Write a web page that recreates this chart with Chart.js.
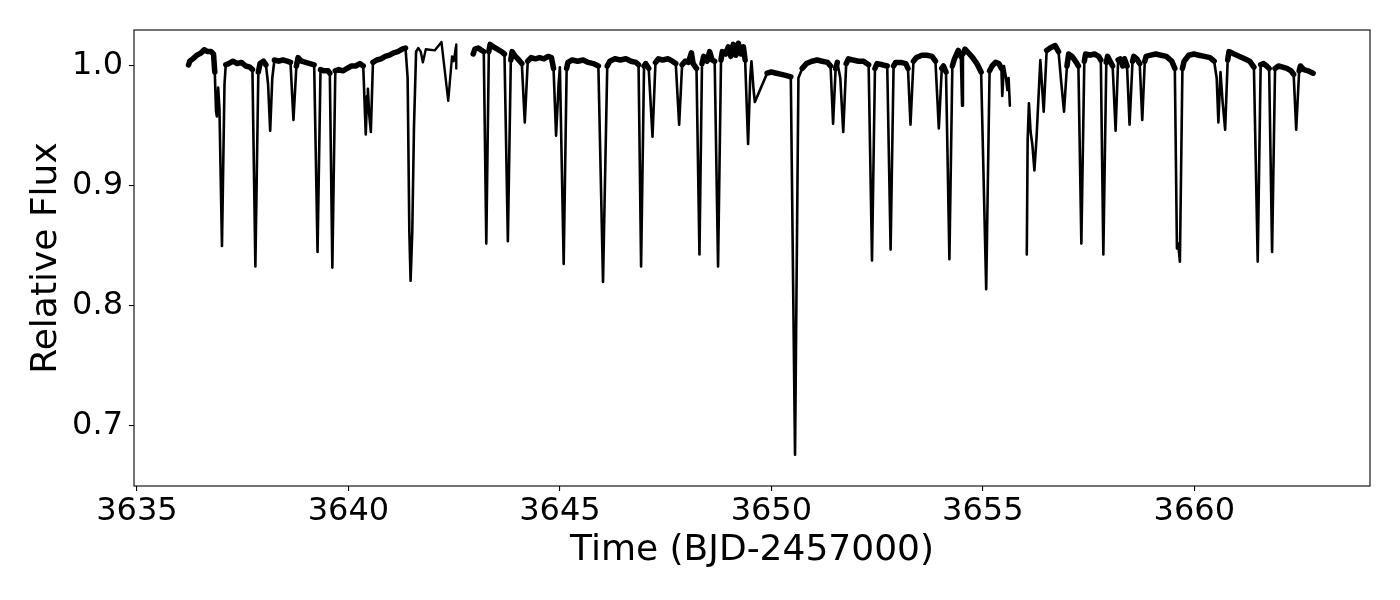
<!DOCTYPE html>
<html>
<head>
<meta charset="utf-8">
<script src="https://cdn.jsdelivr.net/npm/chart.js@4.4.0/dist/chart.umd.min.js"></script>
<style>
  html, body { margin: 0; padding: 0; background: #fff; }
  #wrap { width: 1400px; height: 600px; }
</style>
</head>
<body>
<div id="wrap"><canvas id="lc" width="1400" height="600"></canvas></div>
<script>
// tick labels
const xTicks = [3635, 3640, 3645, 3650, 3655, 3660];
const yTicks = [0.7, 0.8, 0.9, 1.0];

// [time, relative flux], one array per data stretch
const orbit1 = [
  [3636.22, 1.001], [3636.25, 1.004], [3636.32, 1.006], [3636.42, 1.009], [3636.52, 1.011],
  [3636.59, 1.0135], [3636.67, 1.012], [3636.75, 1.012], [3636.81, 1.010], [3636.84, 0.995],
  [3636.87, 0.962], [3636.89, 0.958], [3636.92, 0.982], [3636.95, 0.965], [3637.01, 0.850],
  [3637.07, 0.985], [3637.10, 1.001], [3637.17, 1.002], [3637.27, 1.004], [3637.37, 1.002],
  [3637.47, 1.003], [3637.57, 1.000], [3637.67, 0.999], [3637.73, 0.997], [3637.80, 0.833],
  [3637.87, 0.995], [3637.91, 1.002], [3637.99, 1.004], [3638.05, 1.001], [3638.10, 0.985],
  [3638.15, 0.946], [3638.20, 0.990], [3638.25, 1.005], [3638.35, 1.004], [3638.45, 1.005],
  [3638.55, 1.004], [3638.63, 1.003], [3638.70, 0.955], [3638.77, 1.000], [3638.81, 1.007],
  [3638.89, 1.004], [3638.99, 1.003], [3639.09, 1.002], [3639.19, 1.001], [3639.27, 0.845],
  [3639.34, 0.997], [3639.42, 0.996], [3639.52, 0.996], [3639.56, 0.994], [3639.62, 0.832],
  [3639.69, 0.996], [3639.77, 0.997], [3639.87, 0.996], [3639.97, 0.998], [3640.07, 1.000],
  [3640.17, 1.000], [3640.27, 1.002], [3640.35, 1.000], [3640.41, 0.943], [3640.44, 0.975],
  [3640.46, 0.981], [3640.49, 0.960], [3640.53, 0.945], [3640.58, 1.003], [3640.67, 1.005],
  [3640.77, 1.006], [3640.87, 1.008], [3640.97, 1.009], [3641.07, 1.011], [3641.17, 1.012],
  [3641.27, 1.014], [3641.35, 1.015], [3641.40, 0.990], [3641.44, 0.862], [3641.47, 0.821],
  [3641.51, 0.862], [3641.55, 0.949], [3641.60, 1.012]
];
// sparse stretch before the first gap
const orbit1Tail = [
  [3641.60, 1.012], [3641.65, 1.015], [3641.71, 1.012], [3641.76, 1.003], [3641.83, 1.014],
  [3642.04, 1.013], [3642.20, 1.020], [3642.36, 0.971], [3642.45, 1.008], [3642.49, 1.004],
  [3642.55, 1.018], [3642.55, 0.998]
];
const orbit2 = [
  [3642.95, 1.010], [3642.99, 1.014], [3643.07, 1.015], [3643.15, 1.013], [3643.20, 1.012],
  [3643.26, 0.852], [3643.32, 1.012], [3643.35, 1.018], [3643.43, 1.016], [3643.52, 1.014],
  [3643.62, 1.012], [3643.69, 1.010], [3643.77, 0.854], [3643.84, 1.005], [3643.87, 1.012],
  [3643.95, 1.008], [3644.03, 1.005], [3644.10, 1.002], [3644.17, 0.953], [3644.24, 1.004],
  [3644.32, 1.007], [3644.42, 1.006], [3644.52, 1.007], [3644.62, 1.006], [3644.72, 1.008],
  [3644.80, 1.007], [3644.85, 0.998], [3644.91, 0.942], [3644.97, 0.985], [3645.00, 0.999],
  [3645.09, 0.835], [3645.16, 0.998], [3645.19, 1.003], [3645.29, 1.005], [3645.42, 1.004],
  [3645.55, 1.005], [3645.67, 1.003], [3645.79, 1.002], [3645.91, 1.000], [3646.02, 0.820],
  [3646.12, 1.000], [3646.18, 1.004], [3646.30, 1.006], [3646.43, 1.005], [3646.56, 1.006],
  [3646.68, 1.004], [3646.80, 1.003], [3646.86, 1.001], [3646.92, 0.833], [3646.99, 1.000],
  [3647.03, 1.002], [3647.10, 0.998], [3647.19, 0.941], [3647.26, 1.003], [3647.33, 1.006],
  [3647.43, 1.005], [3647.56, 1.006], [3647.66, 1.004], [3647.74, 1.002], [3647.82, 0.951],
  [3647.89, 1.001], [3647.96, 1.004], [3648.04, 1.003], [3648.11, 1.011], [3648.15, 1.002],
  [3648.23, 0.998], [3648.30, 0.843], [3648.36, 1.002], [3648.40, 1.008], [3648.48, 1.004],
  [3648.54, 1.012], [3648.60, 1.005], [3648.66, 1.004], [3648.74, 0.833], [3648.81, 1.005],
  [3648.84, 1.012], [3648.92, 1.010], [3648.98, 1.016], [3649.04, 1.008], [3649.10, 1.018],
  [3649.16, 1.009], [3649.22, 1.019], [3649.28, 1.010], [3649.34, 1.016], [3649.38, 1.005],
  [3649.45, 0.935], [3649.50, 0.990], [3649.53, 1.004], [3649.58, 0.980], [3649.61, 0.970],
  [3649.90, 0.994], [3650.00, 0.995], [3650.12, 0.994], [3650.24, 0.993], [3650.36, 0.992],
  [3650.46, 0.991], [3650.56, 0.676], [3650.64, 0.990], [3650.73, 0.998], [3650.83, 1.002],
  [3650.96, 1.004], [3651.08, 1.005], [3651.20, 1.004], [3651.33, 1.003], [3651.40, 1.000],
  [3651.46, 0.952], [3651.52, 0.998], [3651.56, 1.003], [3651.63, 0.990], [3651.70, 0.945],
  [3651.77, 1.002], [3651.82, 1.006], [3651.93, 1.005], [3652.06, 1.004], [3652.18, 1.004],
  [3652.30, 1.001], [3652.38, 0.838], [3652.45, 0.998], [3652.50, 1.002], [3652.63, 1.001],
  [3652.74, 1.000], [3652.82, 0.847], [3652.89, 1.000], [3652.94, 1.003], [3653.06, 1.003],
  [3653.18, 1.002], [3653.23, 0.998], [3653.29, 0.951], [3653.36, 1.004], [3653.43, 1.007],
  [3653.56, 1.009], [3653.68, 1.009], [3653.80, 1.008], [3653.88, 1.004], [3653.96, 0.948],
  [3654.03, 0.998], [3654.07, 1.000], [3654.13, 0.995], [3654.21, 0.839], [3654.28, 1.000],
  [3654.33, 1.006], [3654.42, 1.013], [3654.48, 1.008], [3654.51, 0.967], [3654.53, 1.010],
  [3654.58, 1.014], [3654.66, 1.011], [3654.76, 1.007], [3654.86, 1.002], [3654.96, 0.995],
  [3655.08, 0.814], [3655.16, 0.996], [3655.22, 1.000], [3655.30, 1.003], [3655.38, 1.002],
  [3655.44, 0.998], [3655.46, 0.975], [3655.50, 1.000], [3655.55, 0.990], [3655.58, 0.980],
  [3655.61, 0.990], [3655.64, 0.967]
];
const orbit3 = [
  [3656.04, 0.843], [3656.06, 0.938], [3656.09, 0.969], [3656.13, 0.945], [3656.17, 0.935],
  [3656.22, 0.913], [3656.27, 0.940], [3656.36, 1.005], [3656.44, 0.962], [3656.51, 1.013],
  [3656.59, 1.015], [3656.71, 1.017], [3656.79, 1.012], [3656.85, 0.988], [3656.92, 0.962],
  [3656.99, 1.000], [3657.03, 1.010], [3657.11, 1.008], [3657.21, 1.003], [3657.26, 1.000],
  [3657.33, 0.852], [3657.40, 1.004], [3657.43, 1.010], [3657.54, 1.009], [3657.64, 1.010],
  [3657.74, 1.008], [3657.79, 1.005], [3657.85, 0.843], [3657.92, 1.003], [3657.95, 1.008],
  [3658.01, 1.004], [3658.07, 1.000], [3658.14, 0.946], [3658.20, 1.005], [3658.25, 1.006],
  [3658.31, 1.000], [3658.35, 1.006], [3658.41, 1.000], [3658.47, 0.951], [3658.54, 1.004],
  [3658.57, 1.008], [3658.64, 1.006], [3658.71, 1.002], [3658.77, 0.955], [3658.83, 1.004],
  [3658.86, 1.008], [3658.97, 1.009], [3659.09, 1.010], [3659.21, 1.009], [3659.34, 1.008],
  [3659.47, 1.004], [3659.54, 0.998], [3659.59, 0.848], [3659.62, 0.852], [3659.66, 0.837],
  [3659.72, 0.998], [3659.76, 1.004], [3659.87, 1.009], [3659.99, 1.010], [3660.11, 1.009],
  [3660.24, 1.008], [3660.37, 1.007], [3660.47, 1.004], [3660.53, 0.990], [3660.57, 0.953],
  [3660.62, 0.995], [3660.67, 0.970], [3660.73, 0.947], [3660.79, 1.005], [3660.82, 1.012],
  [3660.94, 1.010], [3661.07, 1.008], [3661.19, 1.006], [3661.31, 1.004], [3661.41, 0.999],
  [3661.50, 0.837], [3661.57, 1.001], [3661.64, 1.002], [3661.71, 1.000], [3661.77, 0.998],
  [3661.84, 0.845], [3661.91, 0.998], [3661.99, 1.000], [3662.09, 0.999], [3662.19, 0.998],
  [3662.29, 0.996], [3662.35, 0.993], [3662.41, 0.947], [3662.48, 0.996], [3662.51, 1.000],
  [3662.59, 0.997], [3662.69, 0.996], [3662.81, 0.994]
];

const toPoints = arr => arr.map(p => ({ x: p[0], y: p[1] }));

// the out-of-eclipse flux is a noisy band, so stroke it wider than the eclipse walls
const bandWidth = ctx => {
  const a = ctx.p0.parsed;
  const b = ctx.p1.parsed;
  const dx = b.x - a.x;
  return (a.y > 0.99 && b.y > 0.99 && dx > 0 && dx <= 0.14) ? 5.5 : 2.6;
};

const curve = (data, banded) => ({
  data: toPoints(data),
  borderColor: '#000',
  borderWidth: 2.4,
  borderJoinStyle: 'round',
  borderCapStyle: 'round',
  pointRadius: 0,
  fill: false,
  tension: 0,
  segment: banded ? { borderWidth: bandWidth } : {}
});

// matplotlib-style box around the axes
const framePlugin = {
  id: 'frame',
  afterDraw(chart) {
    const { ctx, chartArea: a } = chart;
    ctx.save();
    ctx.strokeStyle = '#000';
    ctx.lineWidth = 1.1;
    ctx.strokeRect(a.left, a.top, a.right - a.left, a.bottom - a.top);
    ctx.restore();
  }
};

const tickFont = { family: 'DejaVu Sans', size: 32 };
const titleFont = { family: 'DejaVu Sans', size: 36 };

new Chart(document.getElementById('lc'), {
  type: 'line',
  data: {
    datasets: [
      curve(orbit1, true),
      curve(orbit1Tail, false),
      curve(orbit2, true),
      curve(orbit3, true)
    ]
  },
  options: {
    responsive: false,
    animation: false,
    layout: { padding: { left: 0, right: 30, top: 30, bottom: 0 } },
    plugins: {
      legend: { display: false },
      tooltip: { enabled: false }
    },
    scales: {
      x: {
        type: 'linear',
        min: 3634.93,
        max: 3664.155,
        afterBuildTicks: scale => { scale.ticks = xTicks.map(v => ({ value: v })); },
        afterFit: scale => { scale.height = 114; },
        ticks: {
          color: '#000',
          font: tickFont,
          padding: 1,
          maxRotation: 0,
          autoSkip: false,
          callback: v => String(v)
        },
        grid: { drawOnChartArea: false, drawTicks: true, tickLength: 5, color: '#000', lineWidth: 1.1 },
        border: { display: false },
        title: {
          display: true,
          text: 'Time (BJD-2457000)',
          color: '#000',
          font: titleFont,
          padding: { top: 0, bottom: 28 }
        }
      },
      y: {
        min: 0.65,
        max: 1.03,
        afterBuildTicks: scale => { scale.ticks = yTicks.map(v => ({ value: v })); },
        afterFit: scale => { scale.width = 134; },
        ticks: {
          color: '#000',
          font: tickFont,
          padding: 6,
          callback: v => v.toFixed(1)
        },
        grid: { drawOnChartArea: false, drawTicks: true, tickLength: 5, color: '#000', lineWidth: 1.1 },
        border: { display: false },
        title: {
          display: true,
          text: 'Relative Flux',
          color: '#000',
          font: titleFont,
          padding: { top: 25, bottom: 0 }
        }
      }
    }
  },
  plugins: [framePlugin]
});
</script>
</body>
</html>
